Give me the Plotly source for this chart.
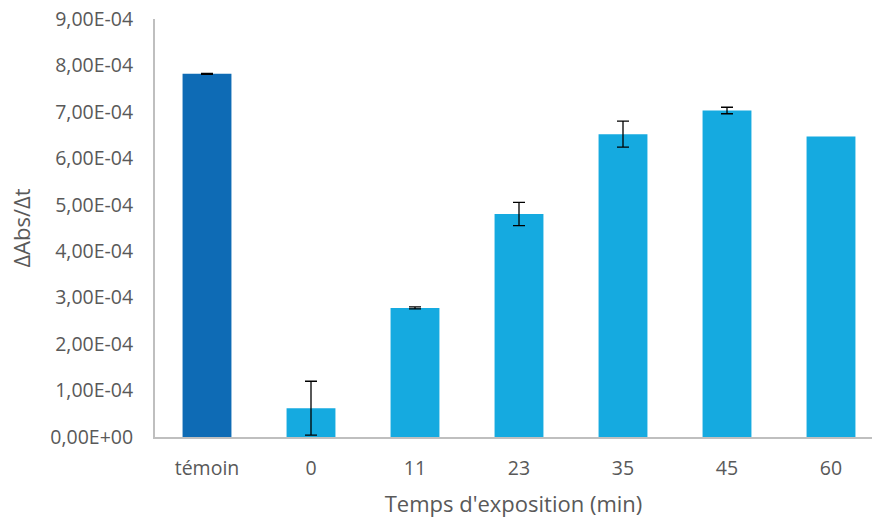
import plotly.graph_objects as go

categories = ["témoin", "0", "11", "23", "35", "45", "60"]
values = [7.82e-4, 0.62e-4, 2.78e-4, 4.80e-4, 6.52e-4, 7.03e-4, 6.47e-4]
errors = [0.01e-4, 0.58e-4, 0.02e-4, 0.25e-4, 0.28e-4, 0.07e-4, None]
colors = ["#0E6BB5", "#15AAE0", "#15AAE0", "#15AAE0", "#15AAE0", "#15AAE0", "#15AAE0"]
ytick_vals = [0.0, 1e-4, 2e-4, 3e-4, 4e-4, 5e-4, 6e-4, 7e-4, 8e-4, 9e-4]
ytick_text = ["0,00E+00", "1,00E-04", "2,00E-04", "3,00E-04", "4,00E-04",
              "5,00E-04", "6,00E-04", "7,00E-04", "8,00E-04", "9,00E-04"]

font_family = "Open Sans, Liberation Sans, sans-serif"
grey = "#595959"

idx = list(range(len(categories)))
with_err = [i for i in idx if errors[i] is not None]
no_err = [i for i in idx if errors[i] is None]

fig = go.Figure()
fig.add_trace(go.Bar(
    x=with_err,
    y=[values[i] for i in with_err],
    width=0.47,
    marker=dict(color=[colors[i] for i in with_err], line=dict(width=0)),
    error_y=dict(type="data", array=[errors[i] for i in with_err], visible=True,
                 color="#000000", thickness=1.3, width=6),
))
fig.add_trace(go.Bar(
    x=no_err,
    y=[values[i] for i in no_err],
    width=0.47,
    marker=dict(color=[colors[i] for i in no_err], line=dict(width=0)),
))

fig.update_layout(
    width=872, height=519,
    barmode="overlay",
    margin=dict(l=155, r=0, t=19, b=82),
    paper_bgcolor="white", plot_bgcolor="white",
    showlegend=False,
    font=dict(family=font_family, color=grey, size=19),
    xaxis=dict(
        tickmode="array", tickvals=idx, ticktext=categories,
        range=[-0.5, -0.5 + 717 / 104],
        showline=True, linecolor="#BFBFBF", linewidth=2,
        showgrid=False, ticks="", zeroline=False, automargin=False,
        tickfont=dict(size=19.5, color=grey, family=font_family),
        ticklabelstandoff=13, ticklabeloverflow="allow",
        title=dict(text="Temps d'exposition (min)", standoff=16,
                   font=dict(size=22, color=grey, family=font_family)),
    ),
    yaxis=dict(
        range=[0, 9.0001e-4],
        tickmode="array", tickvals=ytick_vals, ticktext=ytick_text,
        showline=True, linecolor="#BFBFBF", linewidth=2,
        showgrid=False, ticks="", zeroline=False, automargin=False,
        tickfont=dict(size=19.5, color=grey, family=font_family),
        ticklabelstandoff=16, ticklabeloverflow="allow",
        title=dict(text="ΔAbs/Δt", standoff=14,
                   font=dict(size=22, color=grey, family=font_family)),
    ),
)

fig.write_html("out.html", config={"displayModeBar": False},
               post_script="document.body.style.margin='0';")
